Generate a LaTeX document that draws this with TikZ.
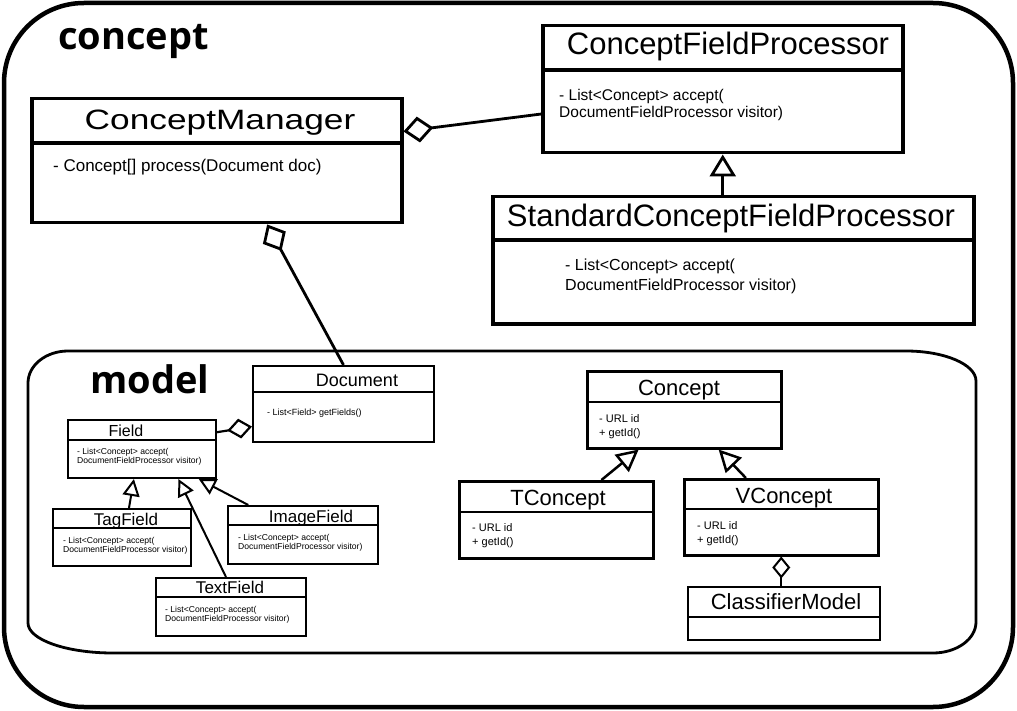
\documentclass[tikz,border=0pt]{standalone}
\usepackage{fontspec}
\usepackage{graphicx}
\setmainfont{Liberation Sans}
\newfontfamily\pkgfont{Open Sans}
\usetikzlibrary{calc,arrows.meta}

\tikzset{
  cls/.style={draw, line width=2pt, anchor=north west, inner sep=0pt},
  ttl/.style={anchor=base, inner sep=0pt},
  body/.style={anchor=north west, align=left, inner sep=0pt},
  pkg/.style={anchor=base west, inner sep=0pt, font={\pkgfont\bfseries\fontsize{38}{40}\selectfont}},
  inherit/.style n args={3}{line width=#3, -{Triangle[open, length=#1, width=#2, line width=#3]}},
  agg/.style n args={3}{line width=#3, {Diamond[open, length=#1, width=#2, line width=#3]}-}
}
% box with a header line
\newcommand{\umlbox}[7][]{%
  \node[cls, #1, minimum width=#5pt, minimum height=#6pt] (#2) at (#3,#4) {};
  \draw[cls, #1] ($(#2.north west)+(0,#7)$) -- ($(#2.north east)+(0,#7)$);
}

\begin{document}
\begin{tikzpicture}[x=1pt,y=-1pt]
  \useasboundingbox (0,0) rectangle (1017,711);
  % packages
  \draw[line width=4.5pt, rounded corners=80pt] (4,3) rectangle (1013,707);
  \draw[line width=2.8pt] (68,351) -- (906,351)
    arc[start angle=-90, end angle=0, x radius=70, y radius=30] -- (976,622)
    arc[start angle=0, end angle=90, x radius=43, y radius=31] -- (113,653)
    arc[start angle=90, end angle=180, x radius=85, y radius=30] -- (28,383)
    arc[start angle=180, end angle=270, x radius=40, y radius=32] -- cycle;
  \node[pkg] (concept-lbl) at (58,50) {concept};
  \node[pkg] (model-lbl) at (90,393) {model};

  % concept classes
  \umlbox[line width=3.5pt]{cm}{30}{97}{370}{124}{46}
  \node[ttl, font={\fontsize{28}{32}\selectfont}] (cm-t) at ($(cm.north west)+(190,33)$) {\scalebox{1.26}[1]{ConceptManager}};
  \node[body, font={\fontsize{17}{20}\selectfont}] (cm-b) at ($(cm.north west)+(23,62)$) {- Concept[] process(Document doc)};

  \umlbox[line width=3.5pt]{cfp}{541}{24}{360}{127}{46}
  \node[ttl, font={\fontsize{31}{34}\selectfont}] (cfp-t) at ($(cfp.north west)+(187,31)$) {ConceptFieldProcessor};
  \node[body, font={\fontsize{15.5}{17}\selectfont}] (cfp-b) at ($(cfp.north west)+(18,65)$) {- List<Concept> accept(\\DocumentFieldProcessor visitor)};

  \umlbox[line width=3.5pt]{scfp}{491}{195}{481}{127}{45}
  \node[ttl, font={\fontsize{31}{34}\selectfont}] (scfp-t) at ($(scfp.north west)+(240,32)$) {StandardConceptFieldProcessor};
  \node[body, font={\fontsize{16}{20}\selectfont}] (scfp-b) at ($(scfp.north west)+(74,64)$) {- List<Concept> accept(\\DocumentFieldProcessor visitor)};

  % model classes
  \umlbox{doc}{252}{365}{181}{76}{27}
  \node[ttl, font={\fontsize{18}{20}\selectfont}] (doc-t) at ($(doc.north west)+(105,21)$) {Document};
  \node[body, font={\fontsize{9}{10}\selectfont}] (doc-b) at ($(doc.north west)+(15,44)$) {- List<Field> getFields()};

  \umlbox{fld}{67}{419}{148}{58}{21}
  \node[ttl, font={\fontsize{16}{18}\selectfont}] (fld-t) at ($(fld.north west)+(59,17)$) {Field};
  \node[body, font={\fontsize{8.6}{9}\selectfont}] (fld-b) at ($(fld.north west)+(10,29)$) {- List<Concept> accept(\\DocumentFieldProcessor visitor)};

  \umlbox{tag}{52}{508}{138}{57}{20}
  \node[ttl, font={\fontsize{17}{18}\selectfont}] (tag-t) at ($(tag.north west)+(74,17)$) {TagField};
  \node[body, font={\fontsize{8.6}{9}\selectfont}] (tag-b) at ($(tag.north west)+(11,29)$) {- List<Concept> accept(\\DocumentFieldProcessor visitor)};

  \umlbox{img}{227}{505}{150}{58}{20}
  \node[ttl, font={\fontsize{17}{18}\selectfont}] (img-t) at ($(img.north west)+(84,17)$) {ImageField};
  \node[body, font={\fontsize{8.6}{9}\selectfont}] (img-b) at ($(img.north west)+(11,29)$) {- List<Concept> accept(\\DocumentFieldProcessor visitor)};

  \umlbox{txt}{155}{577}{150}{58}{20}
  \node[ttl, font={\fontsize{17}{18}\selectfont}] (txt-t) at ($(txt.north west)+(75,16)$) {TextField};
  \node[body, font={\fontsize{8.6}{9}\selectfont}] (txt-b) at ($(txt.north west)+(10,29)$) {- List<Concept> accept(\\DocumentFieldProcessor visitor)};

  \umlbox[line width=2.5pt]{con}{586}{370}{194}{77}{32}
  \node[ttl, font={\fontsize{22}{24}\selectfont}] (con-t) at ($(con.north west)+(93,25)$) {Concept};
  \node[body, font={\fontsize{11}{14}\selectfont}] (con-b) at ($(con.north west)+(13,44)$) {- URL id\\+ getId()};

  \umlbox[line width=2.5pt]{tcon}{458}{480}{194}{77}{32}
  \node[ttl, font={\fontsize{22}{24}\selectfont}] (tcon-t) at ($(tcon.north west)+(100,25)$) {TConcept};
  \node[body, font={\fontsize{11}{14}\selectfont}] (tcon-b) at ($(tcon.north west)+(14,43)$) {- URL id\\+ getId()};

  \umlbox[line width=2.5pt]{vcon}{683}{478}{194}{76}{31}
  \node[ttl, font={\fontsize{22}{24}\selectfont}] (vcon-t) at ($(vcon.north west)+(101,25)$) {VConcept};
  \node[body, font={\fontsize{11}{14}\selectfont}] (vcon-b) at ($(vcon.north west)+(14,43)$) {- URL id\\+ getId()};

  \umlbox{clm}{687}{586}{192}{53}{31}
  \node[ttl, font={\fontsize{22}{24}\selectfont}] (clm-t) at ($(clm.north west)+(99,23)$) {ClassifierModel};

  % relations
  \draw[agg={30pt}{26pt}{2.8pt}] ($(cm.north east)!0.27!(cm.south east)$) -- ($(cfp.north west)!0.69!(cfp.south west)$);
  \draw[agg={30pt}{26pt}{2.8pt}] ($(cm.south west)!0.635!(cm.south east)$) -- (doc.north);
  \draw[inherit={22pt}{26pt}{2.8pt}] (scfp.north -| cfp.south) -- (cfp.south);
  \draw[agg={25pt}{20pt}{2.2pt}] ($(doc.north west)!0.79!(doc.south west)$) -- ($(fld.north east)!0.22!(fld.south east)$);
  \draw[inherit={17pt}{17pt}{2pt}] ($(tag.north west)!0.55!(tag.north east)$) -- ($(fld.south west)!0.446!(fld.south east)$);
  \draw[inherit={17pt}{17pt}{2pt}] ($(txt.north west)!0.467!(txt.north east)$) -- ($(fld.south west)!0.743!(fld.south east)$);
  \draw[inherit={17pt}{17pt}{2pt}] ($(img.north west)!0.14!(img.north east)$) -- ($(fld.south west)!0.878!(fld.south east)$);
  \draw[inherit={22pt}{22pt}{2.5pt}] ($(tcon.north west)!0.73!(tcon.north east)$) -- ($(con.south west)!0.268!(con.south east)$);
  \draw[inherit={22pt}{22pt}{2.5pt}] ($(vcon.north west)!0.32!(vcon.north east)$) -- ($(con.south west)!0.675!(con.south east)$);
  \draw[agg={22pt}{18pt}{2pt}] (vcon.south) -- (vcon.south |- clm.north);
\end{tikzpicture}
\end{document}
